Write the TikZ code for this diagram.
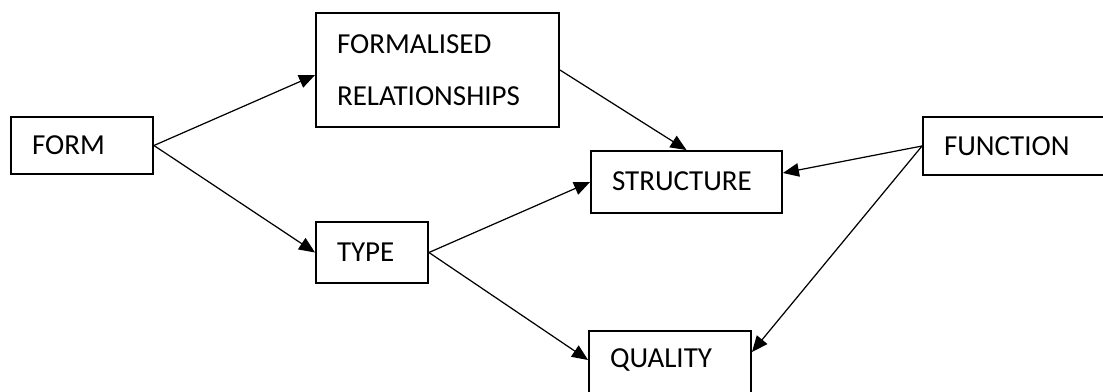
\documentclass[tikz,border=0pt]{standalone}
\usepackage{fontspec}
\setmainfont{Carlito}
\usetikzlibrary{arrows.meta}

\tikzset{
    box/.style={rectangle,draw,line width=1.1pt,inner xsep=0.42cm,align=left,font=\fontsize{16.5}{29.6}\selectfont},
    cell/.style={box,text height=0.36cm,text depth=0pt}
}

\begin{document}
\begin{tikzpicture}[x=0.02cm,y=-0.02cm,>={Triangle[length=0.32cm,width=0.27cm]},line width=0.7pt]
        \useasboundingbox (0,0) rectangle (1103,392);

        \node[cell,text width=2.00cm,minimum height=1.14cm] (form) at (82,145.5) {FORM};
        \node[box,text width=4.02cm,minimum height=2.28cm] (formal) at (437.5,70) {FORMALISED\\RELATIONSHIPS};
        \node[cell,text width=1.40cm,minimum height=1.22cm] (type) at (372,252.5) {TYPE};
        \node[cell,text width=2.98cm,minimum height=1.24cm] (structure) at (686.5,182) {STRUCTURE};
        \node[cell,text width=2.40cm,minimum height=1.30cm,text depth=0.22cm] (quality) at (670,363.5) {QUALITY};
        \node[cell,text width=2.86cm,minimum height=1.16cm] (function) at (1015.5,146) {FUNCTION};

        \draw[->] (form.east) -- ([yshift=-0.1cm]formal.west);
        \draw[->] (form.east) -- (type.west);
        \draw[->] (formal.east) -- (structure.north);
        \draw[->] (type.east) -- (structure.west);
        \draw[->] (type.east) -- ([yshift=0.07cm]quality.west);
        \draw[->] (function.west) -- ([yshift=0.18cm]structure.east);
        \draw[->] (function.west) -- ([yshift=0.23cm]quality.east);

    \end{tikzpicture}
\end{document}
